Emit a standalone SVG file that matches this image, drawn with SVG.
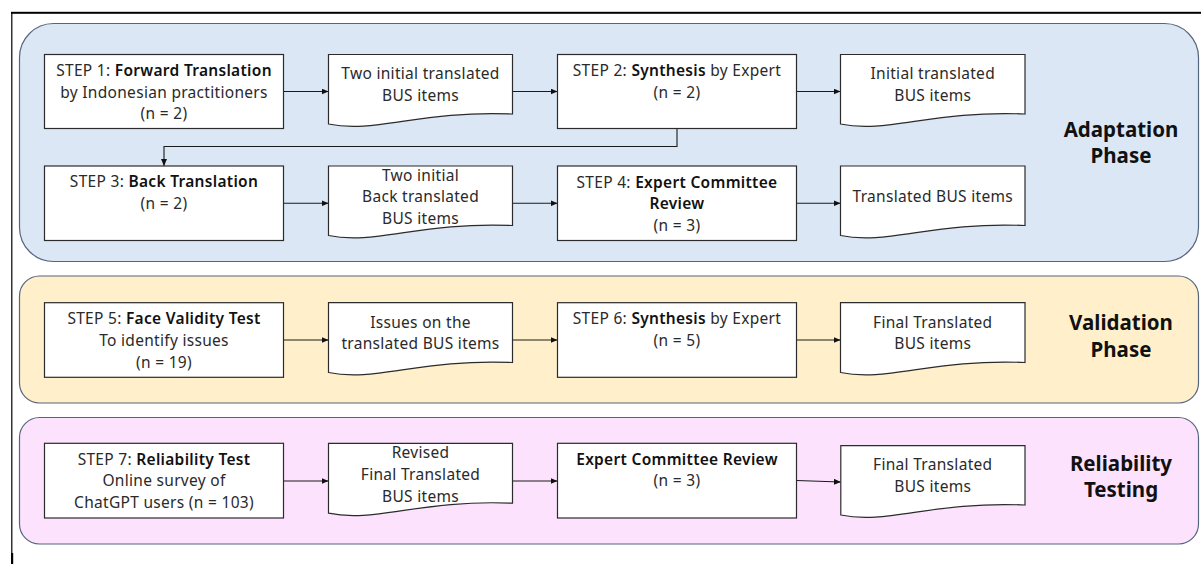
<svg xmlns="http://www.w3.org/2000/svg" width="1201" height="564" viewBox="0 0 1201 564">
<style>
  .panel{stroke:#56657e;stroke-width:1.2}
  .box{fill:#ffffff;stroke:#2b2b2b;stroke-width:1.2}
  .t{font-family:"Noto Sans","Liberation Sans",sans-serif;font-size:15.5px;fill:#2a2a2a;text-anchor:middle;letter-spacing:0.3px}
  .b{font-weight:600;fill:#111}
  .title{font-family:"Noto Sans","Liberation Sans",sans-serif;font-size:20.5px;font-weight:700;fill:#111;text-anchor:middle}
  .con{fill:none;stroke:#1a1a1a;stroke-width:1.1}
</style>
<defs>
  <marker id="ah" markerWidth="7" markerHeight="6" refX="7" refY="3" orient="auto" markerUnits="userSpaceOnUse">
    <path d="M0,0 L7,3 L0,6 z" fill="#111"/>
  </marker>
</defs>
<rect width="1201" height="564" fill="#ffffff"/>
<!-- frame -->
<rect x="11" y="11.8" width="1190" height="2" fill="#000"/>
<rect x="11.2" y="12" width="1.2" height="552" fill="#000"/>
<rect x="11" y="553" width="2.2" height="11" fill="#000"/>

<!-- phase panels -->
<g id="adaptation-phase">
  <rect class="panel" x="19.5" y="23.5" width="1179" height="238" rx="34" ry="34" fill="#dce7f5"/>
  <text class="title" x="1121" y="136.7">Adaptation</text>
  <text class="title" x="1121" y="163.3">Phase</text>
</g>
<g id="validation-phase">
  <rect class="panel" x="19.5" y="276" width="1179" height="127" rx="20" ry="20" fill="#fff0cb"/>
  <text class="title" x="1121" y="330">Validation</text>
  <text class="title" x="1121" y="357">Phase</text>
</g>
<g id="reliability-testing">
  <rect class="panel" x="19.5" y="417.5" width="1179" height="126.5" rx="20" ry="20" fill="#fde2fd"/>
  <text class="title" x="1121" y="471">Reliability</text>
  <text class="title" x="1121" y="497">Testing</text>
</g>

<!-- connectors -->
<g id="connectors">
  <path class="con" d="M283.5,91.5 H328.5" marker-end="url(#ah)"/>
  <path class="con" d="M512.5,91.5 H557.5" marker-end="url(#ah)"/>
  <path class="con" d="M796.5,91.5 H840.5" marker-end="url(#ah)"/>
  <path class="con" d="M677,128.5 V146.5 H164 V166" marker-end="url(#ah)"/>
  <path class="con" d="M284,203.3 H328.5" marker-end="url(#ah)"/>
  <path class="con" d="M512.5,203.3 H557.5" marker-end="url(#ah)"/>
  <path class="con" d="M796.5,203.3 H840.5" marker-end="url(#ah)"/>
  <path class="con" d="M284,340 H328.5" marker-end="url(#ah)"/>
  <path class="con" d="M512.5,340 H557.5" marker-end="url(#ah)"/>
  <path class="con" d="M796.5,340 H840.5" marker-end="url(#ah)"/>
  <path class="con" d="M284,481 H328.5" marker-end="url(#ah)"/>
  <path class="con" d="M512.5,481 H557.5" marker-end="url(#ah)"/>
  <path class="con" d="M796.5,480.5 L840.8,482" marker-end="url(#ah)"/>
</g>

<!-- row 1 -->
<g id="step1">
  <rect class="box" x="44.5" y="54.5" width="239" height="74"/>
  <text class="t" x="164" y="76">STEP 1: <tspan class="b">Forward Translation</tspan></text>
  <text class="t" x="164" y="97.5">by Indonesian practitioners</text>
  <text class="t" x="164" y="119">(n = 2)</text>
</g>
<g id="doc1">
  <path class="box" d="M328.5,54.5 H512.5 V114 C420.5,110 374.5,134 328.5,124 Z"/>
  <text class="t" x="420.5" y="79">Two initial translated</text>
  <text class="t" x="420.5" y="100.7">BUS items</text>
</g>
<g id="step2">
  <rect class="box" x="557.5" y="54.5" width="239" height="74"/>
  <text class="t" x="677" y="76">STEP 2: <tspan class="b">Synthesis</tspan> by Expert</text>
  <text class="t" x="677" y="97.5">(n = 2)</text>
</g>
<g id="doc2">
  <path class="box" d="M840.5,54.5 H1025 V114 C932.75,110 886.6,134 840.5,124 Z"/>
  <text class="t" x="932.75" y="79">Initial translated</text>
  <text class="t" x="932.75" y="100.7">BUS items</text>
</g>

<!-- row 2 -->
<g id="step3">
  <rect class="box" x="44.5" y="166" width="239" height="74.5"/>
  <text class="t" x="164" y="187">STEP 3: <tspan class="b">Back Translation</tspan></text>
  <text class="t" x="164" y="208.5">(n = 2)</text>
</g>
<g id="doc3">
  <path class="box" d="M328.5,166 H512.5 V225.5 C420.5,221.5 374.5,245.5 328.5,235.5 Z"/>
  <text class="t" x="420.5" y="181">Two initial</text>
  <text class="t" x="420.5" y="202">Back translated</text>
  <text class="t" x="420.5" y="223.5">BUS items</text>
</g>
<g id="step4">
  <rect class="box" x="557.5" y="166" width="239" height="74.5"/>
  <text class="t" x="677" y="187.5">STEP 4: <tspan class="b">Expert Committee</tspan></text>
  <text class="t" x="677" y="209"><tspan class="b">Review</tspan></text>
  <text class="t" x="677" y="231">(n = 3)</text>
</g>
<g id="doc4">
  <path class="box" d="M840.5,166 H1025 V225.5 C932.75,221.5 886.6,245.5 840.5,235.5 Z"/>
  <text class="t" x="932.75" y="201.5">Translated BUS items</text>
</g>

<!-- validation row -->
<g id="step5">
  <rect class="box" x="44.5" y="302.7" width="239" height="74.6"/>
  <text class="t" x="164" y="324">STEP 5: <tspan class="b">Face Validity Test</tspan></text>
  <text class="t" x="164" y="345.5">To identify issues</text>
  <text class="t" x="164" y="367.5">(n = 19)</text>
</g>
<g id="doc5">
  <path class="box" d="M328.5,302.7 H512.5 V362.5 C420.5,358.5 374.5,382.5 328.5,372.5 Z"/>
  <text class="t" x="420.5" y="327.5">Issues on the</text>
  <text class="t" x="420.5" y="349">translated BUS items</text>
</g>
<g id="step6">
  <rect class="box" x="557.5" y="302.7" width="239" height="74.6"/>
  <text class="t" x="677" y="324">STEP 6: <tspan class="b">Synthesis</tspan> by Expert</text>
  <text class="t" x="677" y="345.5">(n = 5)</text>
</g>
<g id="doc6">
  <path class="box" d="M840.5,302.7 H1025 V362.5 C932.75,358.5 886.6,382.5 840.5,372.5 Z"/>
  <text class="t" x="932.75" y="327.5">Final Translated</text>
  <text class="t" x="932.75" y="349">BUS items</text>
</g>

<!-- reliability row -->
<g id="step7">
  <rect class="box" x="44.5" y="443.3" width="239" height="74.7"/>
  <text class="t" x="164" y="464.5">STEP 7: <tspan class="b">Reliability Test</tspan></text>
  <text class="t" x="164" y="486">Online survey of</text>
  <text class="t" x="164" y="508">ChatGPT users (n = 103)</text>
</g>
<g id="doc7">
  <path class="box" d="M328.5,443.3 H512.5 V503.2 C420.5,499.2 374.5,523.2 328.5,513.2 Z"/>
  <text class="t" x="420.5" y="458">Revised</text>
  <text class="t" x="420.5" y="479.5">Final Translated</text>
  <text class="t" x="420.5" y="501.5">BUS items</text>
</g>
<g id="expert-review">
  <rect class="box" x="557.5" y="443.3" width="239" height="74.7"/>
  <text class="t" x="677" y="464.5"><tspan class="b">Expert Committee Review</tspan></text>
  <text class="t" x="677" y="486">(n = 3)</text>
</g>
<g id="doc8">
  <path class="box" d="M840.8,445.7 H1025 V505 C932.75,501 886.6,525 840.8,515 Z"/>
  <text class="t" x="932.75" y="470">Final Translated</text>
  <text class="t" x="932.75" y="491.5">BUS items</text>
</g>
</svg>
